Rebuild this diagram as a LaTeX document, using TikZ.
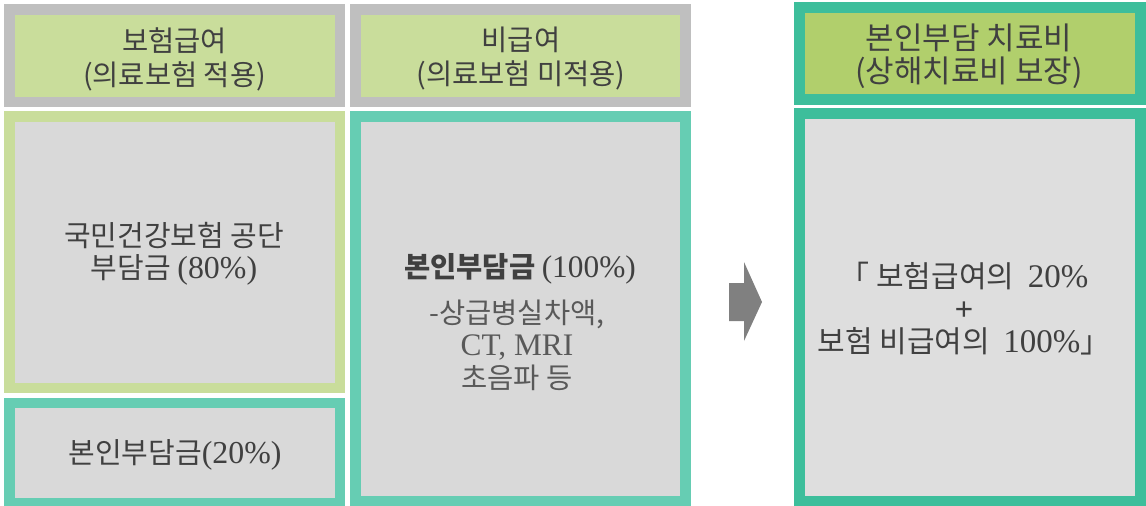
\documentclass[tikz,border=0pt]{standalone}
\usepackage{fontspec}
\setmainfont{Noto Sans CJK KR}
\newfontfamily\lat{Liberation Serif}[Scale=1.1]
\definecolor{hdrgray}{HTML}{BFBFBF}
\definecolor{lgreen}{HTML}{C9DD9B}
\definecolor{dgreen}{HTML}{B1CF6C}
\definecolor{tealA}{HTML}{66CDB3}
\definecolor{tealB}{HTML}{3DBE9B}
\definecolor{innergray}{HTML}{D9D9D9}
\definecolor{innergrayB}{HTML}{DEDEDE}
\definecolor{txtc}{HTML}{404040}
\definecolor{subc}{HTML}{595959}
\definecolor{arrowgray}{HTML}{808080}
\begin{document}
\begin{tikzpicture}[x=1pt,y=-1pt,
  panel/.style={line width=10.5pt, inner sep=0pt, anchor=center},
  txt/.style={text=txtc, align=center, inner sep=0pt, font=\fontsize{28.5}{34}\selectfont},
  subtxt/.style={text=subc, align=center, inner sep=0pt, font=\fontsize{28.5}{32.5}\selectfont}]
\useasboundingbox (0,0) rectangle (1146,506);
\fill[white] (0,0) rectangle (1146,506);
% headers
\node[panel, draw=hdrgray, fill=lgreen, minimum width=330.5pt, minimum height=92.5pt] (h1) at (174.75,55.75) {};
\node[panel, draw=hdrgray, fill=lgreen, minimum width=330pt, minimum height=92.5pt] (h2) at (520.5,55.75) {};
\node[panel, draw=tealB, fill=dgreen, minimum width=341pt, minimum height=92pt] (h3) at (970,53.5) {};
% body boxes
\node[panel, draw=lgreen, fill=innergray, minimum width=330.5pt, minimum height=271.7pt] (b1) at (174.75,252.15) {};
\node[panel, draw=tealA, fill=innergray, minimum width=330.5pt, minimum height=100pt] (b2) at (174.75,453) {};
\node[panel, draw=tealA, fill=innergray, minimum width=330pt, minimum height=385.4pt] (b3) at (520.5,309) {};
\node[panel, draw=tealB, fill=innergrayB, minimum width=341pt, minimum height=387.5pt] (b4) at (970,307.25) {};
% header texts
\node[txt] (t1) at (174.5,59) {보험급여\\(의료보험 적용)};
\node[txt] (t2) at (521,59) {비급여\\(의료보험 미적용)};
\node[txt, font=\fontsize{31}{33}\selectfont] (t3) at (969,56) {본인부담 치료비\\(상해치료비 보장)};
% body texts
\node[txt, font=\fontsize{29}{32}\selectfont] (t4) at (174,254) {국민건강보험 공단\\부담금 {\lat (80\%)}};
\node[txt, font=\fontsize{29}{32}\selectfont] (t5) at (175,455) {본인부담금{\lat (20\%)}};
\node[txt, font=\fontsize{28.5}{32}\bfseries] (t6) at (520,269) {본인부담금 {\lat\mdseries (100\%)}};
\node[subtxt] (t7) at (517,345) {-상급병실차액,\\{\lat CT, MRI}\\초음파 등};
\node[txt, font=\fontsize{30}{32.5}\selectfont] (t8) at (964,309) {「 보험급여의 \ {\lat 20\%}\\{\lat\bfseries +}\\보험 비급여의 \ {\lat 100\%}」};
% block arrow
\coordinate (a0) at (729,302);
\fill[arrowgray] (729,283) -- (744,283) -- (744,262) -- (762,302) -- (744,341) -- (744,321) -- (729,321) -- cycle;
\end{tikzpicture}
\end{document}
